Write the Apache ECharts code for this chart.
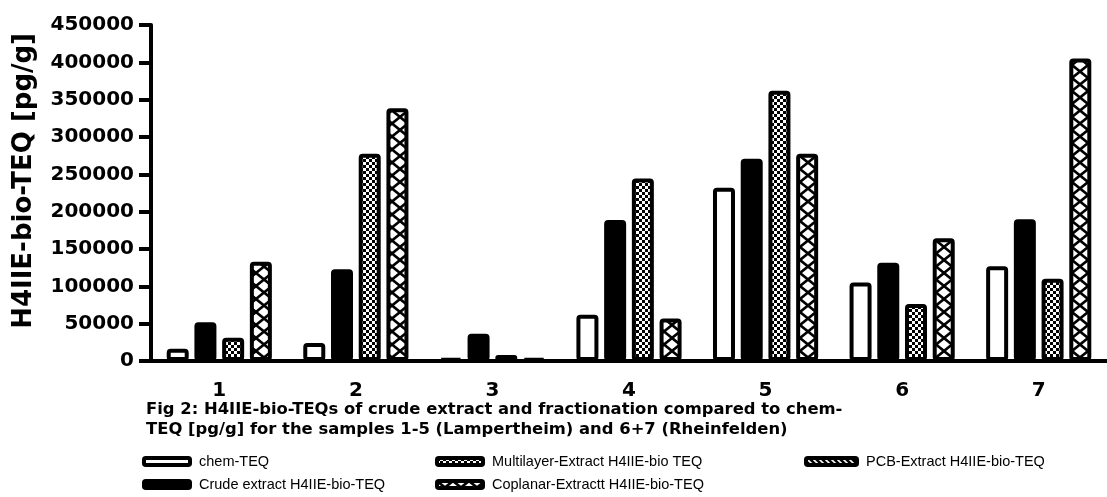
<!DOCTYPE html>
<html>
<head>
<meta charset="utf-8">
<script src="https://cdn.jsdelivr.net/npm/echarts@6/dist/echarts.min.js"></script>
<style>
    html, body { margin: 0; padding: 0; background: #fff; }
    #contain { width: 1107px; height: 497px; }
</style>
</head>
<body>
<div id="contain"></div>
<script>
    var samples = ['1', '2', '3', '4', '5', '6', '7'];
    var chemTEQ = [16500, 24000, 3500, 62000, 232000, 105000, 127000];
    var crudeTEQ = [52000, 123000, 36500, 189000, 271000, 131500, 190000];
    var multilayerTEQ = [31000, 277500, 8000, 244500, 362000, 76500, 110000];
    var coplanarTEQ = [133000, 338500, 3500, 57000, 277500, 164500, 405000];
    var pcbTEQ = [null, null, null, null, null, null, null];
    var yTicks = [0, 50000, 100000, 150000, 200000, 250000, 300000, 350000, 400000, 450000];

    // fill patterns, drawn on small canvases
    function makeTile(w, h, draw) {
        var c = document.createElement('canvas');
        c.width = w;
        c.height = h;
        var ctx = c.getContext('2d');
        draw(ctx, w, h);
        return { image: c, repeat: 'repeat' };
    }
    var checker = makeTile(6, 6, function (ctx, w, h) {
        ctx.fillStyle = '#fff';
        ctx.fillRect(0, 0, w, h);
        ctx.fillStyle = '#000';
        ctx.fillRect(0, 0, 3, 3);
        ctx.fillRect(3, 3, 3, 3);
    });
    var cross = makeTile(16, 13, function (ctx, w, h) {
        ctx.fillStyle = '#fff';
        ctx.fillRect(0, 0, w, h);
        ctx.strokeStyle = '#000';
        ctx.lineWidth = 2.6;
        ctx.beginPath();
        ctx.moveTo(0, 0); ctx.lineTo(w, h);
        ctx.moveTo(w, 0); ctx.lineTo(0, h);
        ctx.stroke();
    });
    var stripes = makeTile(6, 6, function (ctx, w, h) {
        ctx.fillStyle = '#000';
        ctx.fillRect(0, 0, w, h);
        ctx.strokeStyle = '#fff';
        ctx.lineWidth = 1.6;
        ctx.beginPath();
        ctx.moveTo(-1, -1); ctx.lineTo(w + 1, h + 1);
        ctx.moveTo(-1, h - 1); ctx.lineTo(1, h + 1);
        ctx.moveTo(w - 1, -1); ctx.lineTo(w + 1, 1);
        ctx.stroke();
    });

    var boldFont = 'DejaVu Sans';
    var legendText = {
        fontFamily: "'Liberation Sans', Arial",
        fontSize: 14.5,
        lineHeight: 14,
        padding: [0, 0, 0, 4],
        color: '#000'
    };

    function barStyle(fill) {
        return {
            color: fill,
            borderColor: '#000',
            borderWidth: 4,
            borderRadius: 2
        };
    }

    function legendItem(name, fill) {
        return {
            name: name,
            itemStyle: { color: fill, borderColor: '#000', borderWidth: 4, borderRadius: 2 }
        };
    }

    function legendBox(left, items, w) {
        return {
            orient: 'vertical',
            left: left,
            top: 454,
            height: 60,
            padding: 0,
            itemWidth: w,
            itemHeight: 7,
            itemGap: 8,
            textStyle: legendText,
            data: items
        };
    }

    var option = {
        backgroundColor: '#fff',
        animation: false,
        title: {
            text: 'Fig 2: H4IIE-bio-TEQs of crude extract and fractionation compared to chem-\nTEQ [pg/g] for the samples 1-5 (Lampertheim) and 6+7 (Rheinfelden)',
            left: 146,
            top: 400,
            padding: 0,
            textStyle: {
                fontFamily: boldFont,
                fontWeight: 'bold',
                fontSize: 16.4,
                lineHeight: 20,
                color: '#000'
            }
        },
        legend: [
            legendBox(142, [legendItem('chem-TEQ', '#fff'), legendItem('Crude extract H4IIE-bio-TEQ', '#000')], 46),
            legendBox(435, [legendItem('Multilayer-Extract H4IIE-bio TEQ', checker), legendItem('Coplanar-Extractt H4IIE-bio-TEQ', cross)], 46),
            legendBox(804, [legendItem('PCB-Extract H4IIE-bio-TEQ', stripes)], 51)
        ],
        graphic: [{
            type: 'text',
            left: 11,
            top: 33,
            rotation: Math.PI / 2,
            style: {
                text: 'H4IIE-bio-TEQ [pg/g]',
                fontFamily: boldFont,
                fontWeight: 'bold',
                fontSize: 26,
                fill: '#000'
            }
        }],
        grid: {
            left: 151,
            right: -6,
            top: 25,
            bottom: 136
        },
        xAxis: {
            type: 'category',
            data: samples,
            axisLine: { lineStyle: { color: '#000', width: 4 } },
            axisTick: { alignWithLabel: true, length: 11, lineStyle: { color: '#000', width: 4 } },
            axisLabel: {
                margin: 20,
                fontFamily: boldFont,
                fontWeight: 'bold',
                fontSize: 20,
                color: '#000'
            },
            splitLine: { show: false }
        },
        yAxis: {
            type: 'value',
            min: yTicks[0],
            max: yTicks[yTicks.length - 1],
            interval: 50000,
            axisLine: { show: true, lineStyle: { color: '#000', width: 4 } },
            axisTick: { show: true, length: 12, lineStyle: { color: '#000', width: 4 } },
            axisLabel: {
                margin: 17,
                fontFamily: boldFont,
                fontWeight: 'bold',
                fontSize: 20,
                color: '#000',
                formatter: function (v) { return String(v); }
            },
            splitLine: { show: false }
        },
        series: [{
            name: 'chem-TEQ',
            type: 'bar',
            barWidth: 22,
            barGap: '26%',
            itemStyle: barStyle('#fff'),
            data: chemTEQ
        }, {
            name: 'Crude extract H4IIE-bio-TEQ',
            type: 'bar',
            barWidth: 22,
            barGap: '26%',
            itemStyle: barStyle('#000'),
            data: crudeTEQ
        }, {
            name: 'Multilayer-Extract H4IIE-bio TEQ',
            type: 'bar',
            barWidth: 22,
            barGap: '26%',
            itemStyle: barStyle(checker),
            data: multilayerTEQ
        }, {
            name: 'Coplanar-Extractt H4IIE-bio-TEQ',
            type: 'bar',
            stack: 'last',
            barWidth: 22,
            barGap: '26%',
            itemStyle: barStyle(cross),
            data: coplanarTEQ
        }, {
            // PCB column has no values in the graph, only the legend entry
            name: 'PCB-Extract H4IIE-bio-TEQ',
            type: 'bar',
            stack: 'last',
            barWidth: 22,
            barGap: '26%',
            itemStyle: barStyle(stripes),
            data: pcbTEQ
        }]
    };

    var myChart = echarts.init(document.getElementById('contain'));
    myChart.setOption(option);
</script>
</body>
</html>
